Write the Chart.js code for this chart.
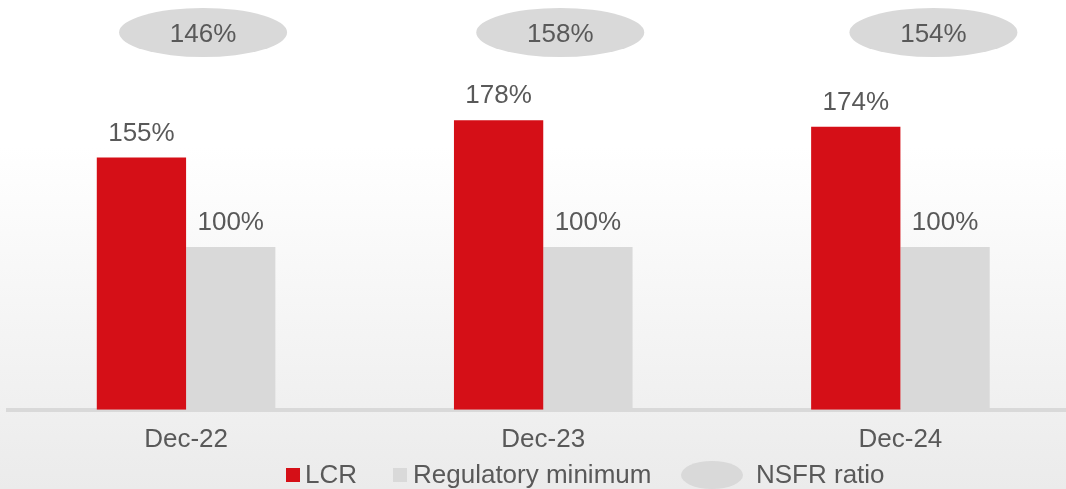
<!DOCTYPE html>
<html>
<head>
<meta charset="utf-8">
<title>LCR and NSFR</title>
<script src="https://cdn.jsdelivr.net/npm/chart.js@4"></script>
<style>
  html, body { margin: 0; padding: 0; }
  body {
    width: 1066px; height: 489px; overflow: hidden;
    background: linear-gradient(to bottom, #ffffff 0%, #ffffff 30%, #ebebeb 100%);
  }
  #wrap { position: relative; width: 1079px; height: 489px; }
</style>
</head>
<body>
<div id="wrap"><canvas id="myChart"></canvas></div>
<script>
// liquidity ratios, in percent
const periods = ['Dec-22', 'Dec-23', 'Dec-24'];
const lcr = [155, 178, 174];
const regulatoryMinimum = [100, 100, 100];
const nsfr = [146, 158, 154];

const RED = '#d50f17';
const GREY = '#d9d9d9';
const TEXT = '#595959';
const FONT = '26px "Liberation Sans", Arial, sans-serif';

// value labels above the bars, NSFR bubbles on top and the legend row
const annotations = {
    id: 'annotations',
    afterDatasetsDraw(chart) {
        const ctx = chart.ctx;
        const xScale = chart.scales.x;
        ctx.save();
        ctx.font = FONT;
        ctx.textAlign = 'center';
        ctx.textBaseline = 'alphabetic';

        chart.data.datasets.forEach((ds, di) => {
            chart.getDatasetMeta(di).data.forEach((bar, i) => {
                ctx.fillStyle = TEXT;
                ctx.fillText(ds.data[i] + '%', bar.x, bar.y - 17);
            });
        });

        // NSFR ratio bubbles
        const nudge = [17, 17, 33];
        nsfr.forEach((v, i) => {
            const cx = xScale.getPixelForValue(i) + nudge[i];
            ctx.fillStyle = GREY;
            ctx.beginPath();
            ctx.ellipse(cx, 32.5, 84, 24.5, 0, 0, Math.PI * 2);
            ctx.fill();
            ctx.fillStyle = TEXT;
            ctx.fillText(v + '%', cx, 42);
        });

        // legend
        ctx.textAlign = 'left';
        ctx.fillStyle = RED;
        ctx.fillRect(286, 468, 14, 14);
        ctx.fillStyle = TEXT;
        ctx.fillText('LCR', 305, 483);
        ctx.fillStyle = GREY;
        ctx.fillRect(393, 468, 14, 14);
        ctx.fillStyle = TEXT;
        ctx.fillText('Regulatory minimum', 413, 483);
        ctx.fillStyle = GREY;
        ctx.beginPath();
        ctx.ellipse(712, 475, 31, 14, 0, 0, Math.PI * 2);
        ctx.fill();
        ctx.fillStyle = TEXT;
        ctx.fillText('NSFR ratio', 756, 483);
        ctx.restore();
    }
};

new Chart(document.getElementById('myChart'), {
    type: 'bar',
    data: {
        labels: periods,
        datasets: [
            { label: 'LCR', data: lcr, backgroundColor: RED },
            { label: 'Regulatory minimum', data: regulatoryMinimum, backgroundColor: GREY }
        ]
    },
    options: {
        responsive: true,
        maintainAspectRatio: false,
        animation: false,
        datasets: {
            bar: { barPercentage: 1, categoryPercentage: 0.5 }
        },
        layout: { padding: { left: 7.5, right: 0, top: 60, bottom: 20 } },
        plugins: {
            legend: { display: false },
            tooltip: { enabled: false }
        },
        scales: {
            x: {
                grid: { display: false, drawTicks: false },
                border: { display: true, color: GREY, width: 4 },
                ticks: {
                    color: TEXT,
                    padding: 14,
                    font: { family: '"Liberation Sans", Arial, sans-serif', size: 26 }
                }
            },
            y: {
                display: false,
                min: 0,
                max: 215
            }
        }
    },
    plugins: [annotations]
});
</script>
</body>
</html>
